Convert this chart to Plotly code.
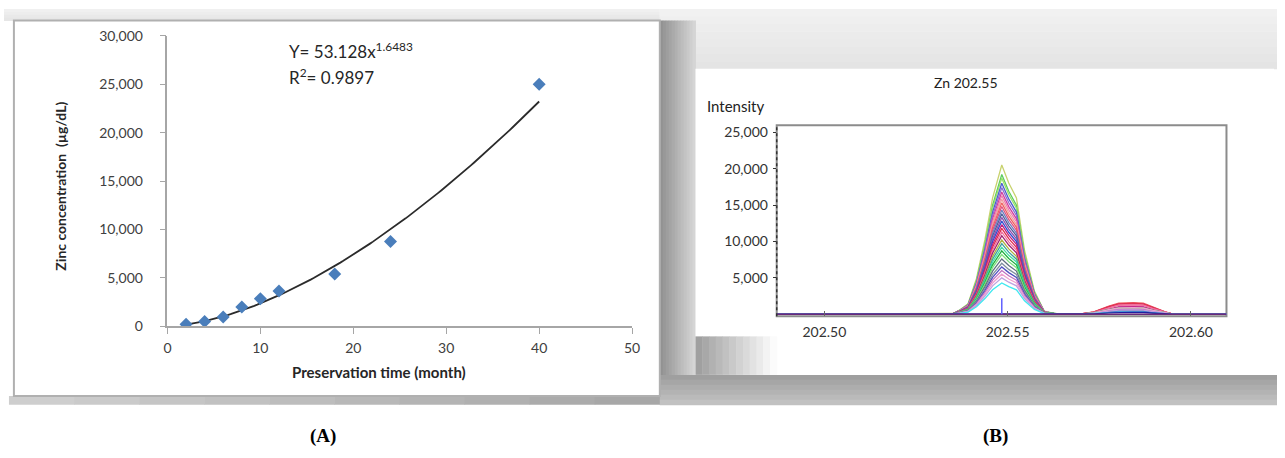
import plotly.graph_objects as go
import numpy as np

W, H = 1285, 458

# ---------------- Panel A data ----------------
months = [2, 4, 6, 8, 10, 12, 18, 24, 40]
zinc = [200, 500, 950, 2000, 2850, 3650, 5400, 8750, 25000]
fit_a, fit_b = 53.128, 1.6483          # trendline shown on the chart: Y = a * x^b
fit_start, fit_end = 2, 40
x_ticks_A = [0, 10, 20, 30, 40, 50]
y_ticks_A = [0, 5000, 10000, 15000, 20000, 25000, 30000]

# ---------------- Panel B data ----------------
wl = [202.487, 202.5303, 202.5351, 202.5370, 202.5392, 202.5415, 202.5438, 202.5459,
      202.5484, 202.5503, 202.5524, 202.5546, 202.5573, 202.5600, 202.5627, 202.5654,
      202.5695, 202.5735, 202.5776, 202.5803, 202.5843, 202.5870, 202.5897, 202.5930,
      202.5951, 202.6097]
main_shape = [0, 0, 0.005, 0.03, 0.07, 0.24, 0.50, 0.78, 1.0, 0.88, 0.78, 0.43, 0.155,
              0.02, 0.005, 0, 0, 0, 0, 0, 0, 0, 0, 0, 0, 0]
small_shape = [0, 0, 0, 0, 0, 0, 0, 0, 0, 0, 0, 0, 0, 0, 0, 0,
               0, 0.2, 0.7, 0.95, 1.0, 0.95, 0.6, 0.2, 0, 0]
peak_heights = [20500, 19200, 18700, 18000, 17400, 16800, 16300, 15800, 15300, 14800,
                14300, 13800, 13300, 12800, 12300, 11800, 11300, 10800, 10200, 9700,
                9200, 8700, 8200, 7600, 7000, 6500, 6000, 5500, 5000, 4300, 0, 0]
small_heights = [700, 950, 800, 500, 600, 1100, 1300, 1400, 1600, 1500,
                 500, 400, 600, 450, 1000, 1500, 1300, 900, 700, 500,
                 850, 900, 800, 400, 350, 400, 700, 900, 600, 300, 250, 0]
line_colors = ['#c8d26e', '#5ecb5e', '#9be36b', '#4b5fd0', '#8c6fd0', '#d040a0', '#f080b0',
               '#f0a0a0', '#f06060', '#e05080', '#7080c0', '#50609a', '#9050b0', '#3050d0',
               '#c02080', '#e03050', '#f070a0', '#a02070', '#b0b040', '#40a0a0', '#40e0a0',
               '#20b040', '#80e080', '#607080', '#8090a0', '#5050c0', '#c070c0', '#f0a0d0',
               '#c0a0e0', '#40e8f0', '#2020a0', '#6a2a7a']
spike_wl = [202.5484, 202.5484]
spike_int = [0, 2200]
x_ticks_B = [202.50, 202.55, 202.60]
y_ticks_B = [5000, 10000, 15000, 20000, 25000]


def px(x):
    return x / W


def py(y):
    return 1 - y / H


def hexmix(c1, c2, t):
    a = [int(c1[i:i + 2], 16) for i in (1, 3, 5)]
    b = [int(c2[i:i + 2], 16) for i in (1, 3, 5)]
    return '#%02x%02x%02x' % tuple(round(a[k] + (b[k] - a[k]) * t) for k in range(3))


shapes = []


def rect(x0, y0, x1, y1, fill, line=None, lw=0):
    shapes.append(dict(type='rect', xref='paper', yref='paper', x0=px(x0), x1=px(x1),
                       y0=py(y1), y1=py(y0), fillcolor=fill, layer='below',
                       line=dict(color=line or 'rgba(0,0,0,0)', width=lw)))


def hgrad(x0, y0, x1, y1, c0, c1, n=12):
    for i in range(n):
        a = x0 + (x1 - x0) * i / n
        b = x0 + (x1 - x0) * (i + 1) / n + 0.5
        rect(a, y0, b, y1, hexmix(c0, c1, (i + 0.5) / n))


def vgrad(x0, y0, x1, y1, c0, c1, n=8):
    for i in range(n):
        a = y0 + (y1 - y0) * i / n
        b = y0 + (y1 - y0) * (i + 1) / n + 0.5
        rect(x0, a, x1, b, hexmix(c0, c1, (i + 0.5) / n))


# background decoration
vgrad(0, 0, 662, 12, '#f2f2f2', '#e4e4e4', 4)
vgrad(662, 0, 1285, 62, '#f2f2f2', '#e3e3e3', 8)
hgrad(662, 12, 698, 411, '#8f8f8f', '#d8d8d8', 12)
hgrad(5, 402, 662, 411, '#d0d0d0', '#a5a5a5', 10)
vgrad(662, 380, 1285, 411, '#9c9c9c', '#c4c4c4', 6)
rect(10, 12, 662, 402, '#ffffff', '#b0b0b0', 2)
rect(698, 62, 1282, 380, '#ffffff')
hgrad(698, 340, 780, 380, '#9c9c9c', '#ffffff', 12)
# panel B plot frame
rect(780, 120.7, 1234, 319, 'rgba(0,0,0,0)', '#8c8c8c', 2)
shapes.append(dict(type='line', xref='paper', yref='paper', x0=px(780), x1=px(780),
                   y0=py(319), y1=py(120.7), line=dict(color='#333333', width=1.5, dash='dot'),
                   layer='above'))

fig = go.Figure()

# Panel A
xf = np.linspace(fit_start, fit_end, 120)
fig.add_trace(go.Scatter(x=xf, y=fit_a * xf ** fit_b, mode='lines',
                         line=dict(color='#2b2b2b', width=1.8), xaxis='x', yaxis='y',
                         showlegend=False, hoverinfo='skip'))
fig.add_trace(go.Scatter(x=months, y=zinc, mode='markers',
                         marker=dict(symbol='diamond', size=10, color='#4a7ebb'),
                         xaxis='x', yaxis='y', showlegend=False))

# Panel B
wl_arr = np.array(wl)
ms = np.array(main_shape)
ss = np.array(small_shape)
for h, sh, c in zip(peak_heights, small_heights, line_colors):
    fig.add_trace(go.Scatter(x=wl_arr, y=h * ms + sh * ss, mode='lines',
                             line=dict(color=c, width=1.3), xaxis='x2', yaxis='y2',
                             showlegend=False))
fig.add_trace(go.Scatter(x=spike_wl, y=spike_int, mode='lines',
                         line=dict(color='#6060ff', width=1.5), xaxis='x2', yaxis='y2',
                         showlegend=False))

fontA = dict(family='Lato', size=14, color='#404040')
fontB = dict(family='Lato', size=14, color='#333333')

annotations = [
    dict(text='<b>Zinc concentration  (µg/dL)</b>', textangle=-90, x=px(57), y=py(184),
         font=dict(family='Lato', size=14, color='#262626')),
    dict(text='<b>Preservation time (month)</b>', x=px(379), y=py(377),
         font=dict(family='Lato', size=15, color='#262626')),
    dict(text='Y= 53.128x<sup>1.6483</sup>', x=px(286), y=py(43), xanchor='left',
         font=dict(family='Lato', size=17, color='#262626')),
    dict(text='R<sup>2</sup>= 0.9897', x=px(286), y=py(70), xanchor='left',
         font=dict(family='Lato', size=17, color='#262626')),
    dict(text='Zn 202.55', x=px(971), y=py(76), font=dict(family='Lato', size=14, color='#222222')),
    dict(text='Intensity', x=px(708), y=py(101), xanchor='left',
         font=dict(family='Lato', size=15, color='#222222')),
    dict(text='<b>(A)</b>', x=px(322), y=py(443),
         font=dict(family='Liberation Serif', size=19, color='#000000')),
    dict(text='<b>(B)</b>', x=px(1001), y=py(443),
         font=dict(family='Liberation Serif', size=19, color='#000000')),
]
for a in annotations:
    a.setdefault('xanchor', 'center')
    a.update(xref='paper', yref='paper', showarrow=False, yanchor='middle')

fig.update_layout(
    width=W, height=H, margin=dict(l=0, r=0, t=0, b=0),
    paper_bgcolor='#ffffff', plot_bgcolor='rgba(0,0,0,0)',
    shapes=shapes, annotations=annotations, showlegend=False,
    xaxis=dict(domain=[px(165), px(634)], range=[0, 50], anchor='y',
               tickvals=x_ticks_A, showgrid=False, zeroline=False, showline=True,
               linecolor='#a6a6a6', linewidth=1.5, ticks='outside', ticklen=6,
               tickcolor='#a6a6a6', tickfont=fontA, ticklabelstandoff=2),
    yaxis=dict(domain=[py(329.5), py(28)], range=[0, 30000], anchor='x',
               tickvals=y_ticks_A, tickformat=',d', showgrid=False, zeroline=False,
               showline=True, linecolor='#a6a6a6', linewidth=1.5, ticks='outside',
               ticklen=6, tickcolor='#a6a6a6', tickfont=fontA, ticklabelstandoff=14),
    xaxis2=dict(domain=[px(780), px(1234)], range=[202.487, 202.6097], anchor='y2',
                tickvals=x_ticks_B, tickformat='.2f', showgrid=False, zeroline=False,
                showline=False, ticks='inside', ticklen=5, tickcolor='#666666',
                tickfont=fontB, ticklabelstandoff=6),
    yaxis2=dict(domain=[py(319), py(120.7)], range=[-265, 25970], anchor='x2',
                tickvals=y_ticks_B, tickformat=',d', showgrid=False, zeroline=False,
                showline=False, ticks='outside', ticklen=3, tickcolor='#333333',
                tickfont=fontB, ticklabelstandoff=2),
)

fig.write_html('out.html', config={'displayModeBar': False},
               post_script="document.body.style.margin='0';")
